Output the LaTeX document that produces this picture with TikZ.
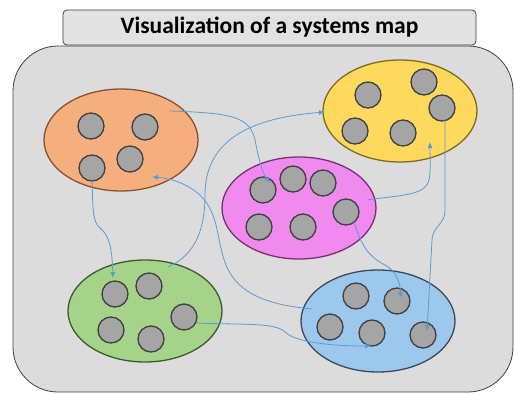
\documentclass[tikz,border=0pt]{standalone}
\usepackage{fontspec}
\setmainfont{Carlito}
\usetikzlibrary{shapes.geometric,arrows.meta}
\definecolor{bggray}{HTML}{DCDCDC}
\definecolor{titlegray}{HTML}{E2E2E2}
\definecolor{edgegray}{HTML}{404040}
\definecolor{dotgray}{HTML}{A5A5A5}
\definecolor{arrowblue}{HTML}{5B9BD5}
\definecolor{orangeF}{HTML}{F5AF7F}
\definecolor{orangeD}{HTML}{8A5030}
\definecolor{yellowF}{HTML}{FFD95E}
\definecolor{yellowD}{HTML}{7F6A20}
\definecolor{pinkF}{HTML}{F08AEE}
\definecolor{pinkD}{HTML}{7A3070}
\definecolor{greenF}{HTML}{A6D38A}
\definecolor{greenD}{HTML}{3C5A30}
\definecolor{blueF}{HTML}{9CC8EE}
\definecolor{blueD}{HTML}{3A4A5A}
\tikzset{
  group/.style={ellipse, draw, line width=1.3pt, minimum width=154pt, minimum height=102pt, inner sep=0pt},
  dot/.style={circle, draw=edgegray, fill=dotgray, line width=1.3pt, minimum size=26pt, inner sep=0pt},
  link/.style={draw=arrowblue, line width=0.8pt, -{Latex[length=6pt,width=5pt]}}
}
\begin{document}
\begin{tikzpicture}[x=1pt,y=-1pt]
\useasboundingbox (0,0) rectangle (514,394);
% main panel
\draw[fill=bggray, draw=edgegray, line width=0.8pt, rounded corners=45pt] (13,46) rectangle (513,392);
% title
\node[draw=edgegray, fill=titlegray, line width=0.8pt, rounded corners=4pt, minimum width=413pt, minimum height=35pt, inner sep=0pt, font=\bfseries\fontsize{23.5}{26}\selectfont] (title) at (269.5,27.5) {Visualization of a systems map};
% groups
\node[group, fill=orangeF, draw=orangeD] (O) at (121,140) {};
\node[group, fill=yellowF, draw=yellowD] (Y) at (400,111) {};
\node[group, fill=pinkF, draw=pinkD] (P) at (299,208) {};
\node[group, fill=greenF, draw=greenD] (G) at (145,311) {};
\node[group, fill=blueF, draw=blueD] (B) at (378,321) {};
% dots
\node[dot] (o1) at (91,126) {};
\node[dot] (o2) at (145,127) {};
\node[dot] (o3) at (130,159) {};
\node[dot] (o4) at (92,168) {};
\node[dot] (y1) at (368,95) {};
\node[dot] (y2) at (424,82) {};
\node[dot] (y3) at (442,108) {};
\node[dot] (y4) at (355,131) {};
\node[dot] (y5) at (403,133) {};
\node[dot] (p1) at (263,190) {};
\node[dot] (p2) at (293,179) {};
\node[dot] (p3) at (323,183) {};
\node[dot] (p4) at (346,212) {};
\node[dot] (p5) at (259,227) {};
\node[dot] (p6) at (303,227) {};
\node[dot] (g1) at (115,294) {};
\node[dot] (g2) at (149,286) {};
\node[dot] (g3) at (184,317) {};
\node[dot] (g4) at (111,330) {};
\node[dot] (g5) at (151,339) {};
\node[dot] (b1) at (356,296) {};
\node[dot] (b2) at (397,301) {};
\node[dot] (b3) at (330,327) {};
\node[dot] (b4) at (372,333) {};
\node[dot] (b5) at (423,335) {};
% free ends
\coordinate (s1) at (170,111);
\coordinate (e1) at (270,183);
\coordinate (s2) at (168,267);
\coordinate (e2) at (325,112);
\coordinate (s3) at (312,309);
\coordinate (e3) at (152,177);
\coordinate (s4) at (92,180);
\coordinate (e4) at (113,278);
\coordinate (s5) at (367,200);
\coordinate (e5) at (430,142);
\coordinate (s6) at (354,222);
\coordinate (e6) at (401,298);
\coordinate (s7) at (445,120);
\coordinate (e7) at (427,331);
\coordinate (s8) at (197,323);
\coordinate (e8) at (371,346);
% links
\draw[link] (s1) .. controls (230,113) and (250,116) .. (255,140) .. controls (259,160) and (262,172) .. (e1);
\draw[link] (s2) .. controls (195,255) and (205,230) .. (205,195) .. controls (205,140) and (250,118) .. (e2);
\draw[link] (s3) .. controls (270,305) and (238,295) .. (226,265) .. controls (216,240) and (220,215) .. (200,195) .. controls (185,182) and (168,178) .. (e3);
\draw[link] (s4) .. controls (93,205) and (92,222) .. (100,228) .. controls (110,236) and (112,250) .. (e4);
\draw[link] (s5) .. controls (400,195) and (425,196) .. (429,180) .. controls (431,170) and (430,155) .. (e5);
\draw[link] (s6) .. controls (360,240) and (365,255) .. (385,265) .. controls (398,272) and (400,285) .. (e6);
\draw[link] (s7) -- (445,210) .. controls (445,225) and (433,225) .. (432,240) -- (e7);
\draw[link] (s8) .. controls (240,325) and (275,322) .. (285,332) .. controls (295,342) and (330,346) .. (e8);
\end{tikzpicture}
\end{document}
